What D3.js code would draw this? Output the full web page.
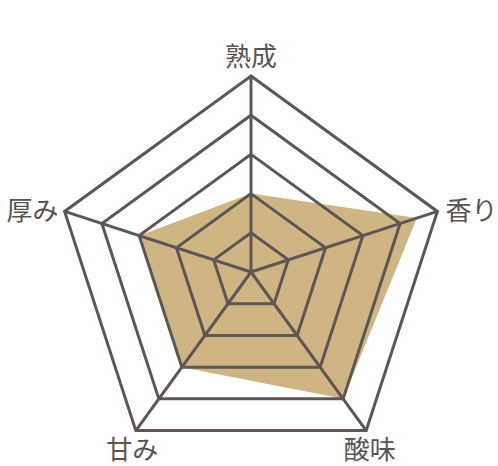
<!DOCTYPE html>
<html>
<head>
<meta charset="utf-8">
<script src="https://cdn.jsdelivr.net/npm/d3@7"></script>
<style>
  body { margin: 0; background: #fff; }
  text { font-family: "Noto Sans CJK JP", sans-serif; fill: #5a5350; }
</style>
</head>
<body>
<div id="wrapper"></div>
<script>
// DATA
const axes = ["熟成", "香り", "酸味", "甘み", "厚み"];
const values = [2, 4.45, 4, 3, 3];
const levels = [1, 2, 3, 4, 5];

function drawChart() {
  const dimensions = { width: 498, height: 466, cx: 251, cy: 272, radius: 196 };

  const wrapper = d3.select("#wrapper")
    .append("svg")
    .attr("width", dimensions.width)
    .attr("height", dimensions.height);

  const bounds = wrapper.append("g")
    .attr("transform", `translate(${dimensions.cx}, ${dimensions.cy})`);

  // SCALES
  const rScale = d3.scaleLinear()
    .domain([0, d3.max(levels)])
    .range([0, dimensions.radius]);
  const angleScale = d3.scaleLinear()
    .domain([0, axes.length])
    .range([0, 2 * Math.PI]);

  const radialLine = d3.lineRadial()
    .angle((d, i) => angleScale(i))
    .radius(d => rScale(d))
    .curve(d3.curveLinearClosed);

  const point = (i, v) => {
    const a = angleScale(i);
    return [rScale(v) * Math.sin(a), -rScale(v) * Math.cos(a)];
  };

  // DRAW DATA (fill sits under the grid)
  bounds.append("path")
    .attr("d", radialLine(values))
    .attr("fill", "#cfb583");

  // grid pentagons
  bounds.selectAll(".level")
    .data(levels)
    .enter().append("path")
    .attr("class", "level")
    .attr("d", l => radialLine(axes.map(() => l)))
    .attr("fill", "none")
    .attr("stroke", "#5e5654")
    .attr("stroke-width", 3)
    .attr("stroke-linejoin", "miter");

  // spokes
  bounds.selectAll(".spoke")
    .data(axes)
    .enter().append("line")
    .attr("class", "spoke")
    .attr("x1", 0)
    .attr("y1", 0)
    .attr("x2", (d, i) => point(i, d3.max(levels))[0])
    .attr("y2", (d, i) => point(i, d3.max(levels))[1])
    .attr("stroke", "#5e5654")
    .attr("stroke-width", 3);

  // labels
  bounds.selectAll(".label")
    .data(axes)
    .enter().append("text")
    .attr("class", "label")
    .attr("font-size", 26)
    .attr("dominant-baseline", "central")
    .attr("text-anchor", (d, i) => {
      const s = Math.sin(angleScale(i));
      return Math.abs(s) < 0.7 ? "middle" : (s > 0 ? "start" : "end");
    })
    .attr("x", (d, i) => {
      const [x] = point(i, d3.max(levels));
      const s = Math.sin(angleScale(i));
      if (Math.abs(s) < 0.7) return x * 1.03;
      return x + (s > 0 ? 8 : -6);
    })
    .attr("y", (d, i) => {
      const [, y] = point(i, d3.max(levels));
      const c = Math.cos(angleScale(i));
      if (c > 0.9) return y - 22;
      if (c < 0) return y + 17;
      return y - 3;
    })
    .text(d => d);
}
drawChart();
</script>
</body>
</html>
